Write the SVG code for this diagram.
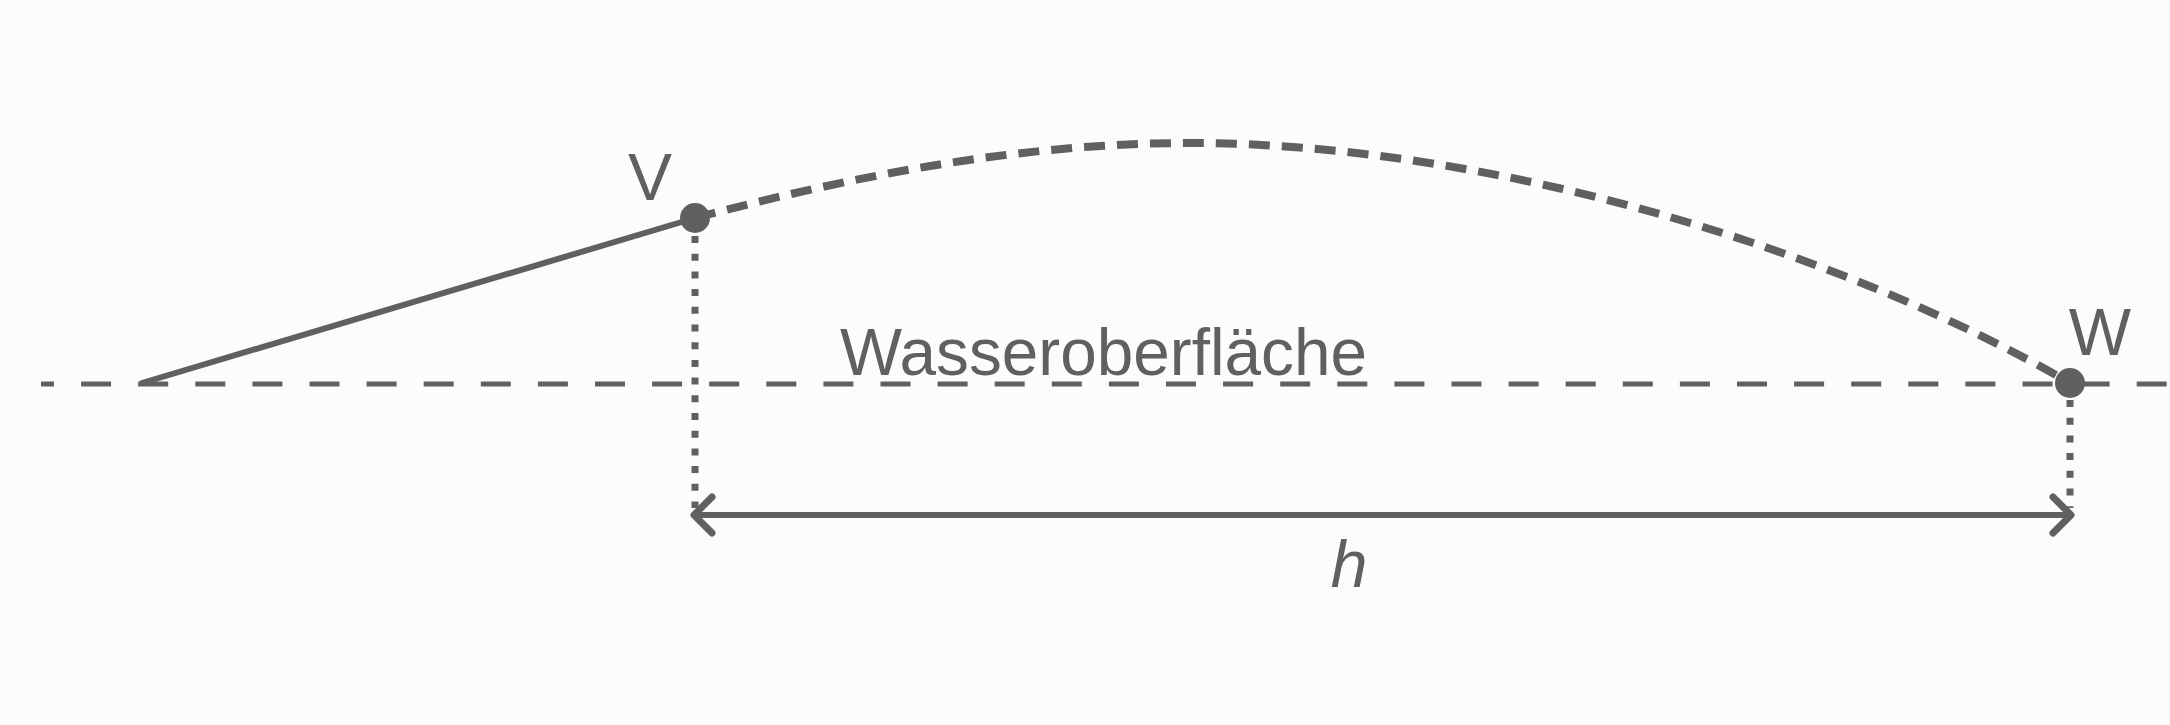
<svg xmlns="http://www.w3.org/2000/svg" width="2170" height="725" viewBox="0 0 2170 725">
<style>
.ln{fill:none;stroke:#606060;}
.water{stroke-width:5;stroke-dasharray:30 27.1;stroke-dashoffset:17;}
.traj{stroke-width:8;stroke-dasharray:21 12;}
.dot{stroke-width:7;stroke-dasharray:7 10.7;}
.solid{stroke-width:6;stroke-linecap:round;}
.arr{stroke-width:6;}
.head{stroke-width:7;stroke-linecap:round;stroke-linejoin:round;}
.pt{fill:#606060;}
.lbl{font-family:"Liberation Sans",Arial,sans-serif;font-size:66px;fill:#606060;}
</style>
<rect width="2170" height="725" fill="#fcfcfc"/>
<g id="connectors">
<line class="ln water" x1="41" y1="384" x2="2170" y2="384"/>
<line class="ln solid" x1="142" y1="383" x2="695" y2="218"/>
<path class="ln traj" d="M695,218 C860,174 1025,143 1190,143 C1490,143 1840,250 2070,383"/>
<line class="ln dot" x1="695" y1="236" x2="695" y2="508"/>
<line class="ln dot" x1="2070" y1="400" x2="2070" y2="508"/>
<line class="ln arr" x1="694" y1="515" x2="2071" y2="515"/>
<polyline class="ln head" points="712,497 694,515 712,533"/>
<polyline class="ln head" points="2053,497 2071,515 2053,533"/>
</g>
<g id="node-V">
<circle class="pt" cx="695" cy="218" r="15"/>
<text class="lbl" x="650" y="200" text-anchor="middle">V</text>
</g>
<g id="node-W">
<circle class="pt" cx="2070" cy="383" r="15"/>
<text class="lbl" x="2100" y="355" text-anchor="middle">W</text>
</g>
<g id="label-water">
<text class="lbl" x="840" y="375" font-size="72" textLength="527" lengthAdjust="spacingAndGlyphs">Wasseroberfläche</text>
</g>
<g id="label-h">
<text class="lbl" x="1349" y="587" text-anchor="middle" font-style="italic">h</text>
</g>
</svg>
